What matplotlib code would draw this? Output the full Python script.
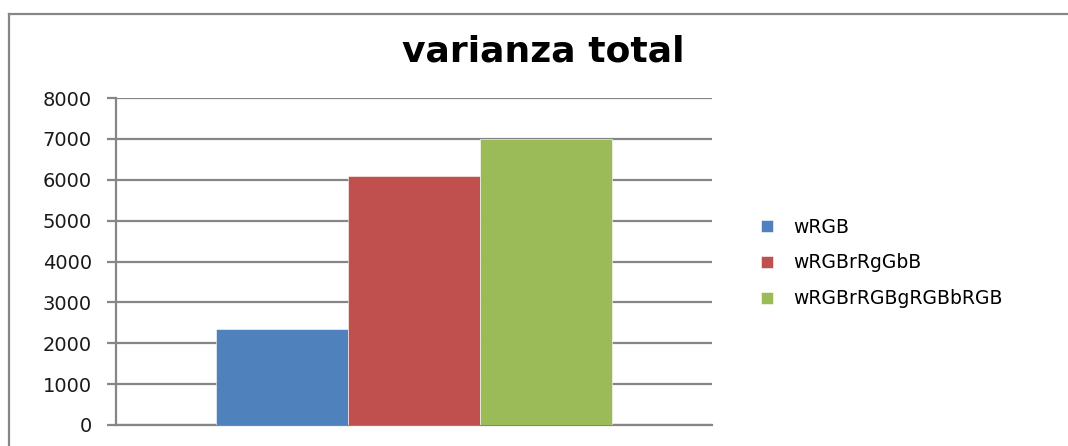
import matplotlib.pyplot as plt
import numpy as np
from matplotlib.lines import Line2D

series = ["wRGB", "wRGBrRgGbB", "wRGBrRGBgRGBbRGB"]
values = [2350, 6100, 6995]
colors = ["#4f81bd", "#c0504d", "#9bbb59"]
yticks = [0, 1000, 2000, 3000, 4000, 5000, 6000, 7000, 8000]

plt.rcParams["font.family"] = ["DejaVu Sans"]
grid_col = "#868686"

fig = plt.figure(figsize=(10.68, 4.46), dpi=100)
ax = fig.add_axes([116 / 1068, 21 / 446, 596 / 1068, 327 / 446])

pos = np.arange(len(series)) - (len(series) - 1) / 2
for p, v, c, s in zip(pos, values, colors, series):
    ax.bar(p, v, width=1.0, color=c, label=s, zorder=3,
           edgecolor="white", linewidth=0.4)

ax.set_xlim(-2.256, 2.256)
ax.set_ylim(0, 8000)
ax.set_yticks(yticks)
ax.set_yticklabels([str(t) for t in yticks], fontsize=14, color="#1a1a1a")
ax.set_xticks([])
ax.yaxis.grid(True, color=grid_col, linewidth=1.6, zorder=0)
ax.tick_params(axis="y", length=6.5, width=1.6, color=grid_col, pad=11)
for side in ["top", "right"]:
    ax.spines[side].set_visible(False)
ax.spines["left"].set_color(grid_col)
ax.spines["left"].set_linewidth(1.6)
ax.spines["bottom"].set_color(grid_col)
ax.spines["bottom"].set_linewidth(1.6)

fig.text(543 / 1068, 1 - 52 / 446, "varianza total", ha="center", va="center",
         fontsize=26, fontweight="bold", color="black")

fig.legend(loc="center left", bbox_to_anchor=(761 / 1068, 1 - 263 / 446),
           frameon=False, fontsize=13.5, handlelength=0.65, handleheight=0.65,
           handletextpad=1.05, labelspacing=0.9, borderpad=0, borderaxespad=0)

# outer chart border (only top and left edges are inside the picture)
bx, by = 9 / 1068, 1 - 14 / 446
fig.add_artist(Line2D([bx, 1.0], [by, by], transform=fig.transFigure,
                      color="#878787", linewidth=1.6))
fig.add_artist(Line2D([bx, bx], [0.0, by], transform=fig.transFigure,
                      color="#878787", linewidth=1.6))

fig.savefig("out.png", dpi=100)
